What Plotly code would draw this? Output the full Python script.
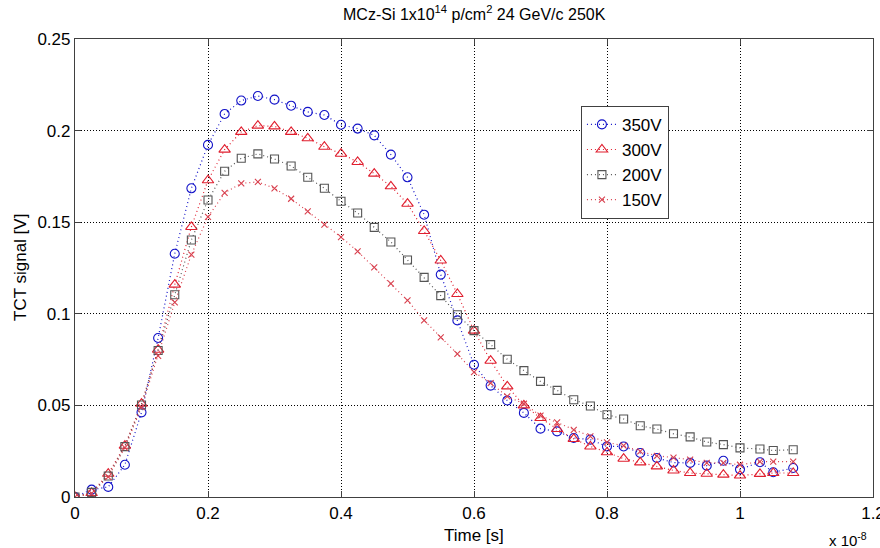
import plotly.graph_objects as go

# Time in units of 1e-8 s
time_e8 = [0.000, 0.025, 0.050, 0.075, 0.100, 0.125, 0.150, 0.175, 0.200, 0.225,
           0.250, 0.275, 0.300, 0.325, 0.350, 0.375, 0.400, 0.425, 0.450, 0.475,
           0.500, 0.525, 0.550, 0.575, 0.600, 0.625, 0.650, 0.675, 0.700, 0.725,
           0.750, 0.775, 0.800, 0.825, 0.850, 0.875, 0.900, 0.925, 0.950, 0.975,
           1.000, 1.030, 1.050, 1.080]

v350 = [0.0000, 0.0040, 0.0055, 0.0176, 0.0462, 0.0868, 0.1328, 0.1685, 0.1922, 0.2091,
        0.2164, 0.2189, 0.2169, 0.2136, 0.2102, 0.2085, 0.2032, 0.2011, 0.1974, 0.1869,
        0.1745, 0.1541, 0.1214, 0.0964, 0.0722, 0.0608, 0.0527, 0.0459, 0.0373, 0.0358,
        0.0322, 0.0313, 0.0276, 0.0276, 0.0240, 0.0213, 0.0188, 0.0186, 0.0171, 0.0198,
        0.0151, 0.0190, 0.0135, 0.0158]

v300 = [0.0000, 0.0022, 0.0127, 0.0280, 0.0509, 0.0804, 0.1159, 0.1474, 0.1729, 0.1896,
        0.1993, 0.2027, 0.2023, 0.1993, 0.1958, 0.1912, 0.1874, 0.1829, 0.1765, 0.1696,
        0.1601, 0.1452, 0.1291, 0.1108, 0.0908, 0.0744, 0.0604, 0.0500, 0.0431, 0.0371,
        0.0317, 0.0276, 0.0244, 0.0209, 0.0189, 0.0167, 0.0145, 0.0131, 0.0127, 0.0122,
        0.0117, 0.0126, 0.0131, 0.0131]

v200 = [0.0000, 0.0025, 0.0115, 0.0275, 0.0502, 0.0800, 0.1104, 0.1403, 0.1621, 0.1778,
        0.1849, 0.1873, 0.1845, 0.1807, 0.1745, 0.1685, 0.1614, 0.1550, 0.1472, 0.1392,
        0.1294, 0.1199, 0.1099, 0.0995, 0.0908, 0.0832, 0.0752, 0.0690, 0.0631, 0.0582,
        0.0531, 0.0497, 0.0449, 0.0426, 0.0389, 0.0371, 0.0345, 0.0328, 0.0300, 0.0286,
        0.0268, 0.0262, 0.0254, 0.0258]

v150 = [0.0000, 0.0020, 0.0110, 0.0270, 0.0490, 0.0770, 0.1062, 0.1323, 0.1529, 0.1660,
        0.1712, 0.1720, 0.1685, 0.1628, 0.1559, 0.1487, 0.1419, 0.1341, 0.1253, 0.1165,
        0.1073, 0.0964, 0.0871, 0.0781, 0.0682, 0.0622, 0.0549, 0.0509, 0.0444, 0.0407,
        0.0367, 0.0331, 0.0298, 0.0280, 0.0249, 0.0225, 0.0215, 0.0204, 0.0186, 0.0186,
        0.0176, 0.0193, 0.0193, 0.0193]

series_names = ["350V", "300V", "200V", "150V"]
series_values = [v350, v300, v200, v150]
series_colors = ["#1212c8", "#e01e2e", "#555555", "#d8404e"]
series_symbols = ["circle-open", "triangle-up-open", "square-open", "x-thin-open"]
series_sizes = [9, 10, 8, 6]

x_tick_vals = [0, 0.2, 0.4, 0.6, 0.8, 1.0, 1.2]
x_tick_text = ["0", "0.2", "0.4", "0.6", "0.8", "1", "1.2"]
y_tick_vals = [0, 0.05, 0.10, 0.15, 0.20, 0.25]
y_tick_text = ["0", "0.05", "0.1", "0.15", "0.2", "0.25"]

FONT = "Liberation Sans, Arial, sans-serif"
LINE_DOT = "1px,3px"
GRID_DOT = "1px,2px"

fig = go.Figure()
for name, vals, col, sym, sz in zip(series_names, series_values, series_colors,
                                    series_symbols, series_sizes):
    fig.add_trace(go.Scatter(
        x=time_e8, y=vals, name=name, mode="lines+markers",
        line=dict(color=col, width=1.2, dash=LINE_DOT),
        marker=dict(symbol=sym, size=sz, color=col, line=dict(color=col, width=1.1)),
    ))

axis_common = dict(
    showgrid=True, gridcolor="#000000", griddash=GRID_DOT, gridwidth=1,
    showline=True, linecolor="#404040", linewidth=1.2, mirror="ticks",
    ticks="inside", ticklen=6, tickcolor="#404040", zeroline=False,
    tickfont=dict(family=FONT, size=17, color="#000000"),
    ticklabeloverflow="allow", automargin=False,
)

fig.update_layout(
    width=880, height=548,
    margin=dict(l=75, r=7, t=39, b=51, autoexpand=False),
    paper_bgcolor="white", plot_bgcolor="white",
    font=dict(family=FONT, size=17, color="#000000"),
    xaxis=dict(range=[0, 1.2], tickvals=x_tick_vals, ticktext=x_tick_text, **axis_common),
    yaxis=dict(range=[0, 0.25], tickvals=y_tick_vals, ticktext=y_tick_text, **axis_common),
    showlegend=True,
    legend=dict(
        x=0.634, y=0.854, xanchor="left", yanchor="top",
        bgcolor="white", bordercolor="#404040", borderwidth=1,
        font=dict(family=FONT, size=17, color="#000000"),
        tracegroupgap=0,
    ),
    annotations=[
        dict(text="MCz-Si 1x10<sup>14</sup> p/cm<sup>2</sup> 24 GeV/c 250K",
             xref="paper", yref="paper", x=0.5, y=1, yshift=26,
             xanchor="center", yanchor="middle", showarrow=False,
             font=dict(family=FONT, size=16)),
        dict(text="Time [s]", xref="paper", yref="paper", x=0.5, y=0, yshift=-38,
             xanchor="center", yanchor="middle", showarrow=False,
             font=dict(family=FONT, size=17)),
        dict(text="TCT signal [V]", xref="paper", yref="paper", x=0, y=0.5, xshift=-55,
             xanchor="center", yanchor="middle", showarrow=False, textangle=-90,
             font=dict(family=FONT, size=17)),
        dict(text="x 10<sup>-8</sup>", xref="paper", yref="paper", x=1, y=0, yshift=-42,
             xshift=-4, xanchor="right", yanchor="middle", showarrow=False,
             font=dict(family=FONT, size=15)),
    ],
)

fig.write_html("out.html")
